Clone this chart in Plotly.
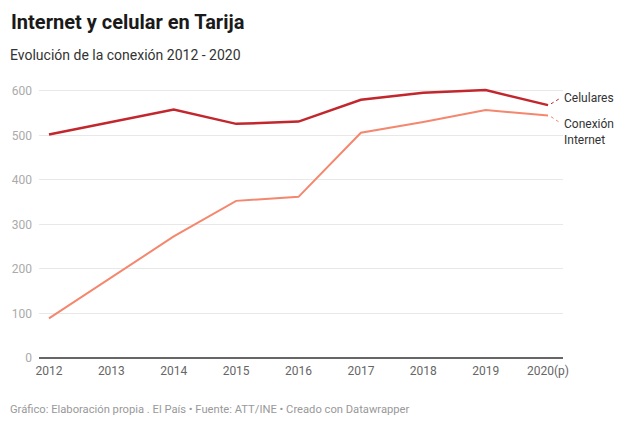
import plotly.graph_objects as go

years = [2012, 2013, 2014, 2015, 2016, 2017, 2018, 2019, 2020]
tick_labels = ["2012", "2013", "2014", "2015", "2016", "2017", "2018", "2019", "2020(p)"]
celulares = [502, 530, 558, 526, 531, 580, 596, 602, 568]
internet = [89, 181, 273, 353, 362, 506, 530, 557, 545]
y_ticks = [0, 100, 200, 300, 400, 500, 600]

C_CEL = "#c1272d"
C_INT = "#f4876d"

fig = go.Figure()
fig.add_trace(go.Scatter(x=years, y=internet, mode="lines", name="Conexión Internet",
                         line=dict(color=C_INT, width=2), hoverinfo="x+y"))
fig.add_trace(go.Scatter(x=years, y=celulares, mode="lines", name="Celulares",
                         line=dict(color=C_CEL, width=2.5), hoverinfo="x+y"))

font = "Roboto, 'Noto Sans', sans-serif"

fig.update_layout(
    width=640, height=432,
    margin=dict(l=37, r=77, t=82, b=74),
    paper_bgcolor="white", plot_bgcolor="white",
    showlegend=False,
    font=dict(family=font, color="#333"),
    title=dict(text="<b>Internet y celular en Tarija</b>", xref="container", yref="container",
               x=11/640, xanchor="left", y=1-22/432, yanchor="middle",
               font=dict(size=20, color="#1a1a1a", family=font)),
    xaxis=dict(range=[2011.84, 2020.24], tickvals=years, ticktext=tick_labels,
               showgrid=False, zeroline=False, showline=False, ticks="",
               ticklabelstandoff=4,
               tickfont=dict(size=12, color="#666"), fixedrange=True),
    yaxis=dict(range=[0, 620], tickvals=y_ticks, showgrid=True, gridcolor="#e8e8e8",
               gridwidth=1, zeroline=True, zerolinecolor="#666", zerolinewidth=2,
               showline=False, ticks="", ticklabelstandoff=6,
               tickfont=dict(size=12, color="#aaa"), fixedrange=True),
    annotations=[
        dict(text="Evolución de la conexión 2012 - 2020", xref="paper", yref="paper",
             x=-31/526, y=(358-55)/276, xanchor="left", yanchor="middle", showarrow=False,
             font=dict(size=14, color="#333")),
        dict(text="Gráfico: Elaboración propia . El País • Fuente: ATT/INE • Creado con Datawrapper",
             xref="paper", yref="paper", x=-31/526, y=(358-409)/276, xanchor="left",
             yanchor="middle", showarrow=False, font=dict(size=11.2, color="#999")),
        dict(text="Celulares", xref="x", yref="y", x=years[-1], y=584, xshift=14,
             xanchor="left", yanchor="middle", showarrow=False, align="left",
             font=dict(size=12, color="#333")),
        dict(text="Conexión<br>Internet", xref="x", yref="y", x=years[-1], y=508, xshift=14,
             xanchor="left", yanchor="middle", showarrow=False, align="left",
             font=dict(size=12, color="#333")),
    ],
    shapes=[
        dict(type="line", xref="x", yref="y", xsizemode="pixel", xanchor=years[-1],
             x0=3, x1=11, y0=celulares[-1] + 3, y1=582,
             line=dict(color=C_CEL, width=1, dash="dot")),
        dict(type="line", xref="x", yref="y", xsizemode="pixel", xanchor=years[-1],
             x0=3, x1=11, y0=internet[-1] - 3, y1=530,
             line=dict(color=C_INT, width=1, dash="dot")),
    ],
)

fig.write_html("out.html")
